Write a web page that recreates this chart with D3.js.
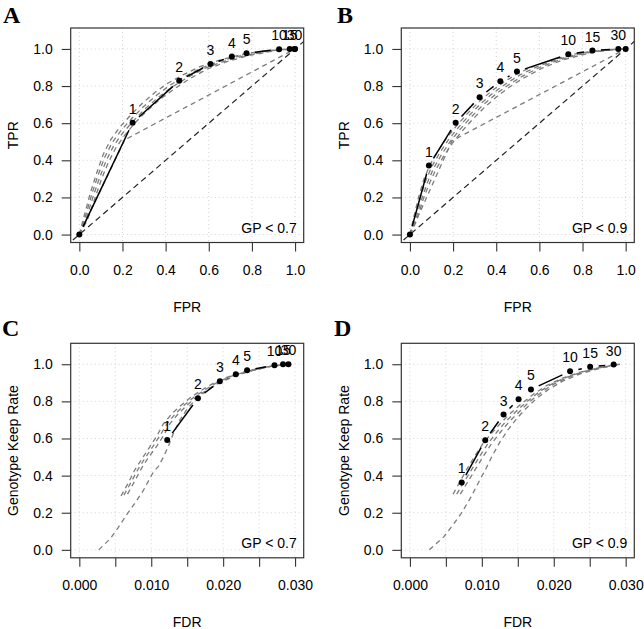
<!DOCTYPE html>
<html><head><meta charset="utf-8">
<script src="https://cdn.jsdelivr.net/npm/d3@7"></script>
<style>body{margin:0;background:#fff}</style>
</head><body>
<svg id="c" width="644" height="629" xmlns="http://www.w3.org/2000/svg"></svg>
<script>
// ---------- data ----------
const rocLabels = ["", "1", "2", "3", "4", "5", "10", "15", "30", ""];
const fdrLabels = ["1", "2", "3", "4", "5", "10", "15", "30"];

const A_fpr = [0, 0.247, 0.463, 0.608, 0.707, 0.775, 0.926, 0.975, 0.997, 1.0];
const A_tpr = [0, 0.603, 0.829, 0.919, 0.959, 0.977, 0.998, 1.0, 1.0, 1.0];
const B_fpr = [0, 0.088, 0.212, 0.323, 0.419, 0.496, 0.734, 0.846, 0.966, 1.0];
const B_tpr = [0, 0.372, 0.603, 0.740, 0.826, 0.878, 0.971, 0.991, 1.0, 1.0];
const C_fdr = [0.01222, 0.01649, 0.01954, 0.02176, 0.02333, 0.02714, 0.02833, 0.02908];
const C_keep = [0.592, 0.817, 0.909, 0.946, 0.968, 0.995, 1.0, 1.0];
const D_fdr = [0.0072, 0.01047, 0.01302, 0.01511, 0.01683, 0.02227, 0.02506, 0.02833];
const D_keep = [0.363, 0.591, 0.729, 0.812, 0.864, 0.962, 0.986, 0.998];

// grey comparison curves [x, y]
const A_grey = [
  [[0,0],[0.02,0.09],[0.05,0.22],[0.08,0.33],[0.11,0.43],[0.145,0.51],[0.185,0.575],[0.235,0.64],[0.29,0.705],[0.35,0.765],[0.41,0.815],[0.48,0.86],[0.56,0.905],[0.65,0.94],[0.75,0.97],[0.85,0.988],[0.95,0.998],[1,1]],
  [[0,0],[0.025,0.085],[0.057,0.215],[0.087,0.32],[0.117,0.415],[0.152,0.495],[0.193,0.56],[0.243,0.625],[0.298,0.69],[0.358,0.75],[0.42,0.805],[0.49,0.852],[0.57,0.9],[0.66,0.937],[0.76,0.968],[0.86,0.987],[0.95,0.998],[1,1]],
  [[0,0],[0.03,0.08],[0.064,0.205],[0.095,0.31],[0.125,0.40],[0.16,0.48],[0.2,0.545],[0.25,0.612],[0.305,0.678],[0.365,0.738],[0.43,0.795],[0.5,0.845],[0.58,0.895],[0.67,0.933],[0.77,0.965],[0.87,0.986],[0.95,0.997],[1,1]],
  [[0,0],[0.036,0.075],[0.072,0.195],[0.103,0.30],[0.133,0.385],[0.168,0.465],[0.207,0.53],[0.257,0.60],[0.312,0.665],[0.372,0.727],[0.44,0.785],[0.51,0.838],[0.59,0.89],[0.68,0.93],[0.78,0.963],[0.88,0.985],[0.95,0.996],[1,1]],
  [[0,0],[0.21,0.51],[1,1]]
];
const B_grey = [
  [[0,0],[0.015,0.08],[0.04,0.2],[0.065,0.3],[0.095,0.38],[0.13,0.45],[0.17,0.52],[0.215,0.585],[0.265,0.65],[0.32,0.715],[0.38,0.775],[0.44,0.825],[0.5,0.868],[0.58,0.91],[0.67,0.945],[0.76,0.972],[0.85,0.988],[0.93,0.997],[1,1]],
  [[0,0],[0.02,0.078],[0.047,0.195],[0.073,0.29],[0.103,0.37],[0.138,0.44],[0.178,0.51],[0.223,0.575],[0.273,0.64],[0.328,0.705],[0.388,0.765],[0.448,0.815],[0.51,0.86],[0.59,0.905],[0.68,0.942],[0.77,0.97],[0.855,0.987],[0.93,0.996],[1,1]],
  [[0,0],[0.025,0.075],[0.054,0.19],[0.081,0.28],[0.111,0.36],[0.146,0.43],[0.186,0.5],[0.231,0.565],[0.281,0.63],[0.336,0.695],[0.396,0.755],[0.456,0.806],[0.52,0.852],[0.6,0.9],[0.69,0.94],[0.78,0.968],[0.86,0.986],[0.93,0.995],[1,1]],
  [[0,0],[0.03,0.072],[0.06,0.185],[0.088,0.27],[0.12,0.35],[0.155,0.42],[0.195,0.49],[0.24,0.555],[0.29,0.62],[0.345,0.685],[0.405,0.745],[0.465,0.798],[0.53,0.845],[0.61,0.895],[0.7,0.937],[0.79,0.966],[0.865,0.985],[0.93,0.994],[1,1]],
  [[0,0],[0.195,0.505],[1,1]]
];
const C_grey = [
  [[0.0027,0.0],[0.0043,0.06],[0.0054,0.12],[0.0066,0.19],[0.0077,0.25],[0.0089,0.32],[0.0103,0.42],[0.011,0.45],[0.0117,0.5],[0.0124,0.56],[0.0131,0.63],[0.0140,0.70],[0.0150,0.76],[0.0163,0.815],[0.0178,0.86],[0.0195,0.9],[0.0215,0.935],[0.024,0.965],[0.0265,0.987],[0.029,1.0]],
  [[0.0058,0.29],[0.0068,0.36],[0.0077,0.43],[0.0087,0.49],[0.0098,0.555],[0.0108,0.615],[0.0117,0.68],[0.0129,0.735],[0.0142,0.78],[0.0156,0.825],[0.0172,0.865],[0.0190,0.905],[0.0212,0.94],[0.0238,0.968],[0.0264,0.988],[0.029,1.0]],
  [[0.0062,0.295],[0.0072,0.365],[0.0081,0.43],[0.0091,0.492],[0.0102,0.555],[0.0112,0.615],[0.0122,0.68],[0.0134,0.735],[0.0146,0.78],[0.016,0.825],[0.0176,0.865],[0.0193,0.905],[0.0214,0.94],[0.024,0.968],[0.0265,0.988],[0.029,1.0]],
  [[0.0067,0.30],[0.0077,0.37],[0.0085,0.43],[0.0095,0.492],[0.0107,0.555],[0.0117,0.615],[0.0126,0.68],[0.0138,0.735],[0.015,0.78],[0.0163,0.825],[0.0179,0.865],[0.0196,0.905],[0.0216,0.94],[0.0242,0.968],[0.0266,0.988],[0.029,1.0]]
];
const D_grey = [
  [[0.0027,0.0],[0.0047,0.07],[0.0061,0.14],[0.0072,0.2],[0.0085,0.285],[0.0097,0.375],[0.0106,0.44],[0.0115,0.51],[0.0125,0.58],[0.0136,0.645],[0.0148,0.705],[0.0161,0.76],[0.0176,0.815],[0.0193,0.865],[0.0213,0.91],[0.0237,0.948],[0.0263,0.977],[0.0292,1.0]],
  [[0.0060,0.30],[0.0070,0.37],[0.0080,0.44],[0.0091,0.51],[0.0102,0.575],[0.0115,0.635],[0.0128,0.69],[0.0141,0.74],[0.0156,0.79],[0.0172,0.84],[0.019,0.885],[0.0212,0.925],[0.0237,0.958],[0.0263,0.982],[0.0292,1.0]],
  [[0.0065,0.30],[0.0076,0.37],[0.0087,0.44],[0.0098,0.51],[0.0109,0.575],[0.0121,0.635],[0.0133,0.69],[0.0146,0.74],[0.016,0.79],[0.0176,0.84],[0.0193,0.885],[0.0214,0.925],[0.0239,0.958],[0.0265,0.982],[0.0292,1.0]],
  [[0.0070,0.30],[0.0081,0.37],[0.0092,0.44],[0.0103,0.51],[0.0114,0.575],[0.0126,0.635],[0.0138,0.69],[0.0151,0.74],[0.0164,0.79],[0.018,0.84],[0.0196,0.885],[0.0217,0.925],[0.0241,0.958],[0.0267,0.982],[0.0292,1.0]]
];

// ticks
const rocTicks = [0, 0.2, 0.4, 0.6, 0.8, 1.0];
const rocTickLabels = ["0.0", "0.2", "0.4", "0.6", "0.8", "1.0"];
const fdrTicks = [0, 0.005, 0.010, 0.015, 0.020, 0.025, 0.030];
const fdrTickLabels = ["0.000", "", "0.010", "", "0.020", "", "0.030"];
const yTicks = [0, 0.2, 0.4, 0.6, 0.8, 1.0];
const yTickLabels = ["0.0", "0.2", "0.4", "0.6", "0.8", "1.0"];

// ---------- layout ----------
const W = 233, H = 214.5;
const panels = [
  {id:"A", left:70.7, top:28, lx:3, ly:23, xs:A_fpr, ys:A_tpr, labels:rocLabels, grey:A_grey, diag:true,
   xmax:1, xt:rocTicks, xtl:rocTickLabels, xtitle:"FPR", ytitle:"TPR", note:"GP < 0.7"},
  {id:"B", left:401.3, top:28, lx:337, ly:23, xs:B_fpr, ys:B_tpr, labels:rocLabels, grey:B_grey, diag:true,
   xmax:1, xt:rocTicks, xtl:rocTickLabels, xtitle:"FPR", ytitle:"TPR", note:"GP < 0.9"},
  {id:"C", left:70.7, top:343.3, lx:2, ly:336, xs:C_fdr, ys:C_keep, labels:fdrLabels, grey:C_grey, diag:false,
   xmax:0.03, xt:fdrTicks, xtl:fdrTickLabels, xtitle:"FDR", ytitle:"Genotype Keep Rate", note:"GP < 0.7"},
  {id:"D", left:401.3, top:343.3, lx:334, ly:336, xs:D_fdr, ys:D_keep, labels:fdrLabels, grey:D_grey, diag:false,
   xmax:0.03, xt:fdrTicks, xtl:fdrTickLabels, xtitle:"FDR", ytitle:"Genotype Keep Rate", note:"GP < 0.9"}
];

const svg = d3.select("#c");
const FONT = "'Liberation Sans', Arial, Helvetica, sans-serif";
const ylo = -0.0428, yhi = 1.1128;
const GAP = 8.5;

panels.forEach((p, pi) => {
  const x = d3.scaleLinear().domain([-0.04 * p.xmax, 1.04 * p.xmax]).range([p.left, p.left + W]);
  const y = d3.scaleLinear().domain([ylo, yhi]).range([p.top + H, p.top]);

  const clipId = "clip" + p.id;
  svg.append("clipPath").attr("id", clipId).append("rect")
    .attr("x", p.left).attr("y", p.top).attr("width", W).attr("height", H);

  const g = svg.append("g").attr("clip-path", `url(#${clipId})`);

  // grid
  g.selectAll(".gx").data(p.xt).join("line")
    .attr("x1", d => x(d)).attr("x2", d => x(d)).attr("y1", p.top).attr("y2", p.top + H)
    .attr("stroke", "#d3d3d3").attr("stroke-width", 1).attr("stroke-dasharray", "1,3");
  g.selectAll(".gy").data(yTicks).join("line")
    .attr("x1", p.left).attr("x2", p.left + W).attr("y1", d => y(d)).attr("y2", d => y(d))
    .attr("stroke", "#d3d3d3").attr("stroke-width", 1).attr("stroke-dasharray", "1,3");

  // diagonal reference
  if (p.diag) {
    const lo = -0.1, hi = 1.2;
    g.append("line").attr("x1", x(lo)).attr("y1", y(lo)).attr("x2", x(hi)).attr("y2", y(hi))
      .attr("stroke", "#222").attr("stroke-width", 1.2).attr("stroke-dasharray", "6,4");
  }

  // grey curves
  const line = d3.line().x(d => x(d[0])).y(d => y(d[1]));
  g.selectAll(".grey").data(p.grey).join("path")
    .attr("d", line).attr("fill", "none")
    .attr("stroke", "#7c7c7c").attr("stroke-width", 1.3).attr("stroke-dasharray", "5,4");

  // black type="b" line with gaps
  const pts = p.xs.map((v, i) => [x(v), y(p.ys[i])]);
  for (let i = 0; i < pts.length - 1; i++) {
    const [x0, y0] = pts[i], [x1, y1] = pts[i + 1];
    const dx = x1 - x0, dy = y1 - y0, d = Math.hypot(dx, dy);
    if (d > 2 * GAP) {
      const ux = dx / d, uy = dy / d;
      g.append("line")
        .attr("x1", x0 + ux * GAP).attr("y1", y0 + uy * GAP)
        .attr("x2", x1 - ux * GAP).attr("y2", y1 - uy * GAP)
        .attr("stroke", "#000").attr("stroke-width", 1.5);
    }
  }
  svg.selectAll(".pt" + p.id).data(pts).join("circle")
    .attr("cx", d => d[0]).attr("cy", d => d[1]).attr("r", 3).attr("fill", "#000");

  // point labels
  svg.selectAll(".lab" + p.id).data(pts).join("text")
    .attr("x", d => d[0]).attr("y", d => d[1] - 9)
    .attr("text-anchor", "middle").attr("font-family", FONT).attr("font-size", 14)
    .attr("fill", "#000").text((d, i) => p.labels[i]);

  // box
  svg.append("rect").attr("x", p.left).attr("y", p.top).attr("width", W).attr("height", H)
    .attr("fill", "none").attr("stroke", "#333").attr("stroke-width", 1.2);

  // axes
  const xa = svg.append("g").attr("transform", `translate(0,${p.top + H})`)
    .call(d3.axisBottom(x).tickValues(p.xt).tickSize(9).tickFormat((d, i) => p.xtl[i]));
  const ya = svg.append("g").attr("transform", `translate(${p.left},0)`)
    .call(d3.axisLeft(y).tickValues(yTicks).tickSize(9).tickPadding(9).tickFormat((d, i) => yTickLabels[i]));
  [xa, ya].forEach(a => {
    a.select(".domain").remove();
    a.selectAll("line").attr("stroke", "#333").attr("stroke-width", 1.1);
    a.selectAll("text").attr("font-family", FONT).attr("font-size", 14).attr("fill", "#000");
  });
  xa.selectAll("text").attr("y", 32.5).attr("dy", null);

  // titles
  svg.append("text").attr("x", p.left + W / 2).attr("y", p.top + H + 69)
    .attr("text-anchor", "middle").attr("font-family", FONT).attr("font-size", 14).text(p.xtitle);
  svg.append("text")
    .attr("transform", `translate(${p.left - 52.4},${p.top + H / 2}) rotate(-90)`)
    .attr("text-anchor", "middle").attr("font-family", FONT).attr("font-size", 14).text(p.ytitle);

  // note
  svg.append("text").attr("x", p.left + W - 7).attr("y", p.top + H - 9.5)
    .attr("text-anchor", "end").attr("font-family", FONT).attr("font-size", 14).text(p.note);

  // panel letter
  svg.append("text").attr("x", p.lx).attr("y", p.ly)
    .attr("font-family", "'Liberation Serif', 'Times New Roman', serif").attr("font-weight", "bold")
    .attr("font-size", 24).text(p.id);
});
</script>
</body></html>
